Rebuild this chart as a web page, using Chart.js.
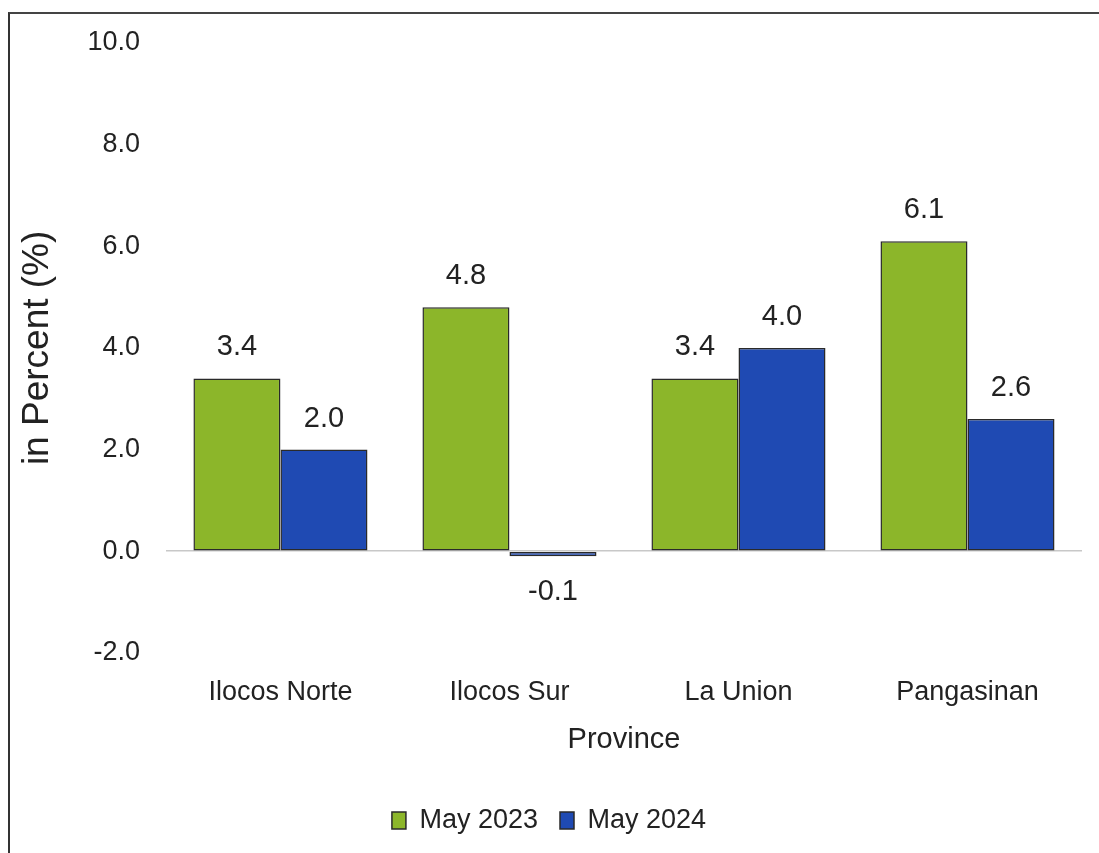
<!DOCTYPE html>
<html>
<head>
<meta charset="utf-8">
<script src="https://cdn.jsdelivr.net/npm/chart.js@4/dist/chart.umd.min.js"></script>
<style>
  html, body { margin: 0; padding: 0; background: #fff; }
  #wrap { position: relative; width: 1099px; height: 853px; }
  #frame { position: absolute; left: 8px; top: 12px; right: 0; bottom: 0;
           border-left: 2px solid #333; border-top: 2px solid #444; }
  canvas { position: absolute; left: 0; top: 0; }
</style>
</head>
<body>
<div id="wrap">
  <div id="frame"></div>
  <canvas id="myChart" width="1099" height="853"></canvas>
</div>
<script>
// provinces and inflation rates
const provinces = ['Ilocos Norte', 'Ilocos Sur', 'La Union', 'Pangasinan'];
const may2023 = [3.4, 4.8, 3.4, 6.1];
const may2024 = [2.0, -0.1, 4.0, 2.6];
const seriesNames = ['May 2023', 'May 2024'];

const textColor = '#222';
const fontFamily = '"Liberation Sans", Arial, sans-serif';

// draw the value above (or below, when negative) each bar
const valueLabels = {
    id: 'valueLabels',
    afterDatasetsDraw(chart) {
        const ctx = chart.ctx;
        ctx.save();
        ctx.font = '29px ' + fontFamily;
        ctx.fillStyle = textColor;
        ctx.textAlign = 'center';
        ctx.textBaseline = 'middle';
        chart.data.datasets.forEach((ds, i) => {
            chart.getDatasetMeta(i).data.forEach((bar, j) => {
                const v = ds.data[j];
                if (v >= 0) {
                    ctx.fillText(v.toFixed(1), bar.x, bar.y - 31);
                } else {
                    ctx.fillText(v.toFixed(1), bar.x, bar.y + 36);
                }
            });
        });
        ctx.restore();
    }
};

var ctx = document.getElementById('myChart').getContext('2d');
var chart = new Chart(ctx, {
    type: 'bar',
    data: {
        labels: provinces,
        datasets: [{
                label: seriesNames[0],
                data: may2023,
                backgroundColor: '#8cb62a',
                borderColor: '#2a2a2a',
                borderWidth: 1.5,
                borderSkipped: false
            },
            {
                label: seriesNames[1],
                data: may2024,
                backgroundColor: '#1f4ab3',
                borderColor: '#2a2a2a',
                borderWidth: 1.5,
                borderSkipped: false
            }
        ]
    },
    options: {
        responsive: false,
        animation: false,
        layout: { padding: { left: 16, right: 17, top: 43, bottom: 9 } },
        datasets: { bar: { barPercentage: 1.0, categoryPercentage: 0.76 } },
        scales: {
            x: {
                grid: { display: false, drawTicks: false },
                border: { display: false },
                ticks: { color: textColor, padding: 24, font: { size: 27, family: fontFamily } },
                title: { display: true, text: 'Province', color: textColor, padding: { top: -11, bottom: 28 },
                         font: { size: 29, family: fontFamily } }
            },
            y: {
                min: -2, max: 10,
                ticks: { stepSize: 2, color: textColor, padding: 26,
                         callback: v => v.toFixed(1),
                         font: { size: 27, family: fontFamily } },
                grid: {
                    drawTicks: false,
                    color: c => c.tick && c.tick.value === 0 ? '#c8c8c8' : 'rgba(0,0,0,0)',
                    lineWidth: 1.5
                },
                border: { display: false },
                title: { display: true, text: 'in Percent (%)', color: textColor, padding: { top: 0, bottom: 1 },
                         font: { size: 37, family: fontFamily } }
            }
        },
        plugins: {
            legend: {
                position: 'bottom',
                labels: {
                    color: textColor,
                    boxWidth: 14,
                    boxHeight: 17,
                    padding: 22,
                    font: { size: 27, family: fontFamily }
                }
            },
            tooltip: { enabled: false }
        }
    },
    plugins: [valueLabels]
});
</script>
</body>
</html>
